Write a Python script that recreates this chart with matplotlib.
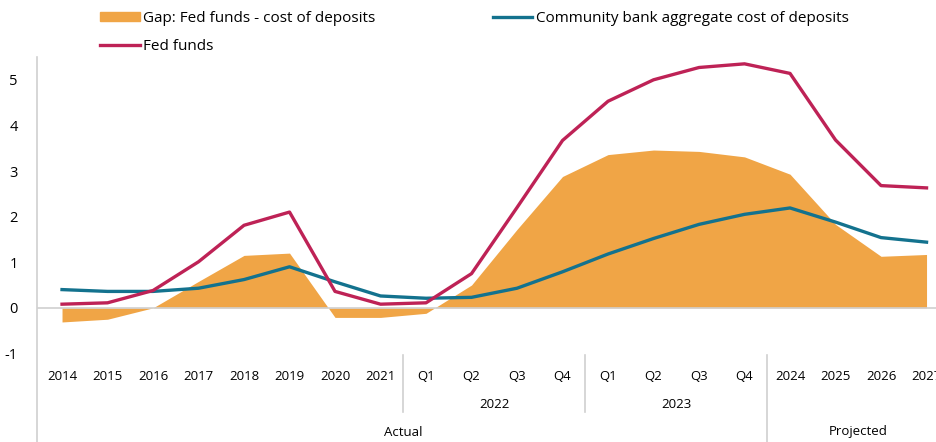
import numpy as np
import matplotlib.pyplot as plt
from matplotlib.patches import Patch
from matplotlib.lines import Line2D

plt.rcParams['font.family'] = ['Open Sans', 'DejaVu Sans']
plt.rcParams['axes.unicode_minus'] = False

# categories along the x axis
tick_labels = ['2014', '2015', '2016', '2017', '2018', '2019', '2020', '2021',
               'Q1', 'Q2', 'Q3', 'Q4', 'Q1', 'Q2', 'Q3', 'Q4',
               '2024', '2025', '2026', '2027']
group_labels = ['2022', '2023']
period_labels = ['Actual', 'Projected']

fed_funds = [0.08, 0.11, 0.38, 1.01, 1.81, 2.10, 0.36, 0.08,
             0.11, 0.75, 2.20, 3.67, 4.53, 5.00, 5.27, 5.35,
             5.14, 3.68, 2.68, 2.63]
cost_deposits = [0.40, 0.36, 0.36, 0.43, 0.62, 0.90, 0.57, 0.26,
                 0.21, 0.23, 0.43, 0.79, 1.18, 1.52, 1.83, 2.05,
                 2.19, 1.88, 1.54, 1.44]
gap = [-0.31, -0.25, 0.00, 0.58, 1.15, 1.20, -0.21, -0.21,
       -0.12, 0.50, 1.72, 2.88, 3.36, 3.46, 3.43, 3.31,
       2.93, 1.83, 1.13, 1.17]

orange = '#F0A546'
red = '#BE2256'
teal = '#13728E'
grey = '#D0D0D0'

W, H = 937, 442
fig = plt.figure(figsize=(W / 100, H / 100), dpi=100)
# axes placed in pixel coordinates
ax_l, ax_r, ax_t, ax_b = 37, 937, 57, 358
ax = fig.add_axes([ax_l / W, (H - ax_b) / H, (ax_r - ax_l) / W, (ax_b - ax_t) / H])

x = np.arange(len(tick_labels))
ax.fill_between(x, 0, gap, color=orange, linewidth=0, zorder=1)
ax.axhline(0, color=grey, lw=1.2, zorder=2)
ax.plot(x, cost_deposits, color=teal, lw=2.4, zorder=3)
ax.plot(x, fed_funds, color=red, lw=2.4, zorder=4)

ax.set_xlim(-0.55, 19.23)
ax.set_ylim(-1.1, 5.5)
for s in ax.spines.values():
    s.set_visible(False)
ax.set_xticks([])
ax.set_yticks(range(-1, 6))
ax.tick_params(axis='y', length=0, pad=14, labelsize=10.5)

# left frame line running down through the label area
def ay(py):
    return (ax_b - py) / (ax_b - ax_t)

ax.add_line(Line2D([0, 0], [1, ay(442)], transform=ax.transAxes,
                   color=grey, lw=1.2, clip_on=False))

tr = ax.get_xaxis_transform()
for i, lab in enumerate(tick_labels):
    ax.text(i, ay(376), lab, transform=tr, ha='center', va='center', fontsize=9.5)
for c, lab in zip([9.5, 13.5], group_labels):
    ax.text(c, ay(404), lab, transform=tr, ha='center', va='center', fontsize=9.5)
for c, lab in zip([7.5, 17.5], period_labels):
    ax.text(c, ay(432), lab, transform=tr, ha='center', va='center', fontsize=9.5)

for xs, bot in [(7.5, 412), (11.5, 412), (15.5, 442)]:
    ax.add_line(Line2D([xs, xs], [ay(355), ay(bot)], transform=tr,
                       color=grey, lw=1.2, clip_on=False))

handles = [Patch(color=orange, label='Gap: Fed funds - cost of deposits'),
           Line2D([], [], color=red, lw=2.4, label='Fed funds'),
           Line2D([], [], color=teal, lw=2.4, label='Community bank aggregate cost of deposits')]
fig.legend(handles=handles, ncol=2, loc='upper left', bbox_to_anchor=(97 / W, 1 - 8 / H),
           frameon=False, fontsize=11, handlelength=2.6, handleheight=0.5,
           handletextpad=0.2, columnspacing=7.7, labelspacing=0.85,
           borderaxespad=0.0, borderpad=0.2)

fig.savefig('out.png', dpi=100)
